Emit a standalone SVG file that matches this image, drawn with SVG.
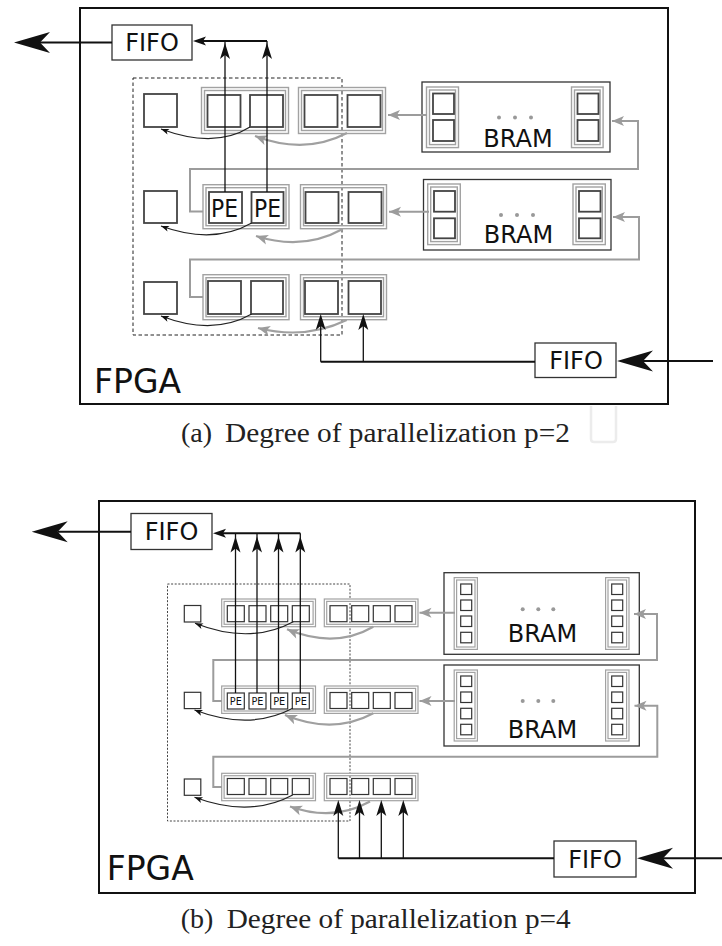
<svg xmlns="http://www.w3.org/2000/svg" xmlns:xlink="http://www.w3.org/1999/xlink" width="722" height="946" viewBox="0 0 722 946">
<style>
.bg{fill:#fff}
.fr{fill:none;stroke:#111;stroke-width:2}
.bx{fill:#fff;stroke:#333;stroke-width:1.3}
.gb{fill:none;stroke:#a2a2a2;stroke-width:4.4}
.gw{fill:none;stroke:#fff;stroke-width:1.6}
.gb2{fill:none;stroke:#a2a2a2;stroke-width:3.6}
.gw2{fill:none;stroke:#fff;stroke-width:1.2}
.sq{fill:#fff;stroke:#444;stroke-width:1.8}
.sq2{fill:#fff;stroke:#333;stroke-width:1.2}
.dash{fill:none;stroke:#222;stroke-width:1;stroke-dasharray:3.5 2.5}
.dot{fill:none;stroke:#444;stroke-width:1;stroke-dasharray:2 1.6}
.ln{fill:none;stroke:#111;stroke-width:1.3}
.lnb{fill:none;stroke:#111;stroke-width:2}
.gl{fill:none;stroke:#9c9c9c;stroke-width:2}
.ck{fill:none;stroke:#222;stroke-width:1.2}
.cg{fill:none;stroke:#a0a0a0;stroke-width:2.2}
.ah{fill:#111}
.dt{fill:#999}
.t{font-family:"DejaVu Sans","Liberation Sans",sans-serif;fill:#111}
.fifo{font-size:24px;text-anchor:middle}
.bram{font-size:24px;text-anchor:middle}
.fpga{font-size:33px}
.pe{font-size:25px}
.pe2{font-size:10px}
.cap{font-family:"Liberation Serif","DejaVu Serif",serif;font-size:28px;fill:#222}
</style>
<defs>
<path id="up" d="M0,0 L5,16 L0,12 L-5,16 Z"/>
<path id="lf" d="M0,0 L13,-4.5 L10,0 L13,4.5 Z"/>
<path id="big" d="M0,0 L36,-10.5 L26,0 L36,10.5 Z"/>
<marker id="mg" viewBox="-13 -6 14 12" refX="0" refY="0" markerWidth="14" markerHeight="12" markerUnits="userSpaceOnUse" orient="auto"><path d="M0,0 L-12,-5 L-9,0 L-12,5 Z" fill="#9c9c9c"/></marker>
<marker id="mk" viewBox="-9 -4 10 8" refX="0" refY="0" markerWidth="10" markerHeight="8" markerUnits="userSpaceOnUse" orient="auto"><path d="M0,0 L-8,-3 L-6,0 L-8,3 Z" fill="#111"/></marker>
</defs>
<rect class="bg" x="0" y="0" width="722" height="946"/>

<!-- ================= (a) ================= -->
<g id="a-fpga">
<rect class="fr" x="80" y="8" width="588" height="396"/>
<text class="t fpga" x="94" y="393">FPGA</text>
</g>
<g id="a-fifo-out">
<rect class="bx" x="112" y="25" width="80" height="35"/>
<text class="t fifo" x="152" y="51">FIFO</text>
</g>
<g id="a-fifo-in">
<rect class="bx" x="535" y="343" width="81" height="34.5"/>
<text class="t fifo" x="576" y="368.5">FIFO</text>
</g>
<g id="a-parallel-region">
<rect class="dash" x="133" y="78" width="209" height="257"/>
</g>
<g id="a-row1">
<rect class="sq" x="144" y="94" width="33" height="33"/>
<rect class="gb" x="203" y="89" width="84" height="43"/><rect class="gw" x="203" y="89" width="84" height="43"/>
<rect class="sq" x="207.5" y="95" width="33" height="32"/><rect class="sq" x="250" y="95" width="33" height="32"/>
<rect class="gb" x="300" y="89" width="84" height="43"/><rect class="gw" x="300" y="89" width="84" height="43"/>
<rect class="sq" x="304.5" y="95" width="33" height="32"/><rect class="sq" x="347.5" y="95" width="33" height="32"/>
</g>
<g id="a-row2">
<rect class="sq" x="144" y="191" width="33" height="32"/>
<rect class="gb" x="204.5" y="186.2" width="83" height="41"/><rect class="gw" x="204.5" y="186.2" width="83" height="41"/>
<rect class="sq" x="209" y="192" width="33" height="31"/><rect class="sq" x="251.5" y="192" width="32" height="31"/>
<text class="t pe" x="211" y="216.7" textLength="27" lengthAdjust="spacingAndGlyphs">PE</text>
<text class="t pe" x="254" y="216.7" textLength="27" lengthAdjust="spacingAndGlyphs">PE</text>
<rect class="gb" x="302" y="186.2" width="83" height="41"/><rect class="gw" x="302" y="186.2" width="83" height="41"/>
<rect class="sq" x="305.5" y="192" width="33" height="31"/><rect class="sq" x="348.5" y="192" width="33" height="31"/>
</g>
<g id="a-row3">
<rect class="sq" x="144" y="282" width="33" height="32"/>
<rect class="gb" x="204.5" y="276.2" width="83" height="42"/><rect class="gw" x="204.5" y="276.2" width="83" height="42"/>
<rect class="sq" x="208" y="281" width="33" height="33"/><rect class="sq" x="251" y="281" width="32" height="33"/>
<rect class="gb" x="302" y="276.2" width="83" height="42"/><rect class="gw" x="302" y="276.2" width="83" height="42"/>
<rect class="sq" x="305" y="281" width="33" height="33"/><rect class="sq" x="348.5" y="281" width="32.5" height="33"/>
</g>
<g id="a-bram1">
<rect class="bx" x="422" y="82" width="188" height="70"/>
<rect class="gb" x="428" y="88.5" width="29" height="57.6"/><rect class="gw" x="428" y="88.5" width="29" height="57.6"/>
<rect class="sq" x="433" y="93.5" width="21" height="20.5"/><rect class="sq" x="433" y="120" width="21" height="21"/>
<rect class="gb" x="573" y="88.5" width="28.6" height="57.6"/><rect class="gw" x="573" y="88.5" width="28.6" height="57.6"/>
<rect class="sq" x="577.5" y="93.5" width="21" height="20.5"/><rect class="sq" x="577.5" y="120" width="21" height="21"/>
<circle class="dt" cx="499" cy="117.5" r="2"/><circle class="dt" cx="515" cy="117.5" r="2"/><circle class="dt" cx="531" cy="117.5" r="2"/>
<text class="t bram" x="518" y="147">BRAM</text>
</g>
<g id="a-bram2">
<rect class="bx" x="423.5" y="179.5" width="187.5" height="70.5"/>
<rect class="gb" x="429.2" y="185.5" width="29.6" height="57.6"/><rect class="gw" x="429.2" y="185.5" width="29.6" height="57.6"/>
<rect class="sq" x="434" y="191" width="21" height="20.7"/><rect class="sq" x="434" y="218.3" width="21" height="20"/>
<rect class="gb" x="574.5" y="185.5" width="29.3" height="57.6"/><rect class="gw" x="574.5" y="185.5" width="29.3" height="57.6"/>
<rect class="sq" x="579" y="191" width="21.5" height="20.7"/><rect class="sq" x="579" y="218.3" width="21.5" height="20"/>
<circle class="dt" cx="501" cy="215" r="2"/><circle class="dt" cx="517" cy="215" r="2"/><circle class="dt" cx="533" cy="215" r="2"/>
<text class="t bram" x="518.5" y="243.3">BRAM</text>
</g>
<g id="a-connectors">
<path class="gl" d="M203,211.5 H190 V169 H638 V121 H612" marker-end="url(#mg)"/>
<path class="gl" d="M203,297 H190 V259.5 H639 V217 H613" marker-end="url(#mg)"/>
<path class="gl" d="M427,115 H388" marker-end="url(#mg)"/>
<path class="gl" d="M429,211.7 H389" marker-end="url(#mg)"/>
<path class="ck" d="M250,127 Q215,149 161,129" marker-end="url(#mk)"/>
<path class="cg" d="M347,133 Q305,155 255,136" marker-end="url(#mg)"/>
<path class="ck" d="M251.7,223 Q213,245 161,226" marker-end="url(#mk)"/>
<path class="cg" d="M342.7,229 Q303,251 256,236" marker-end="url(#mg)"/>
<path class="ck" d="M251.7,314 Q213,336 161,316" marker-end="url(#mk)"/>
<path class="cg" d="M346.7,320 Q305,340 258,328" marker-end="url(#mg)"/>
<path class="ln" d="M225,192 V41"/><path class="ln" d="M267,192 V41"/>
<path class="lnb" d="M267,41 H203"/>
<use href="#up" class="ah" x="225" y="43"/><use href="#up" class="ah" x="267" y="43"/>
<use href="#lf" class="ah" x="193" y="41"/>
<path class="lnb" d="M112,42.5 H40"/>
<use href="#big" class="ah" x="14" y="42.5"/>
<path class="lnb" d="M535,361.7 H320.7"/>
<path class="ln" d="M320.7,361.7 V326"/><path class="ln" d="M363.3,361.7 V326"/>
<use href="#up" class="ah" x="320.7" y="314"/><use href="#up" class="ah" x="363.3" y="314"/>
<path class="lnb" d="M713,361 H643"/>
<use href="#big" class="ah" x="617" y="361"/>
</g>
<path d="M591,406 V439 Q591,442 594,442 H613 Q616,442 616,439 V406" fill="none" stroke="#ececec" stroke-width="2.5"/>
<text class="cap"><tspan x="181" y="442">(a)</tspan><tspan x="225" y="442" textLength="345" lengthAdjust="spacingAndGlyphs">Degree of parallelization p=2</tspan></text>

<!-- ================= (b) ================= -->
<g id="b-fpga">
<rect class="fr" x="99" y="501" width="596" height="392"/>
<text class="t fpga" x="106.7" y="880">FPGA</text>
</g>
<g id="b-fifo-out">
<rect class="bx" x="131" y="513.5" width="81" height="36"/>
<text class="t fifo" x="171.5" y="540">FIFO</text>
</g>
<g id="b-fifo-in">
<rect class="bx" x="554" y="841" width="82" height="36"/>
<text class="t fifo" x="595" y="868">FIFO</text>
</g>
<g id="b-parallel-region">
<rect class="dot" x="167.5" y="584" width="182.5" height="237"/>
</g>
<g id="b-row1">
<rect class="sq2" x="184.3" y="605.5" width="16.5" height="16.5"/>
<rect class="gb2" x="222.9" y="600.2" width="91.4" height="25.3"/><rect class="gw2" x="222.9" y="600.2" width="91.4" height="25.3"/>
<rect class="sq2" x="227.3" y="605.7" width="17" height="16"/><rect class="sq2" x="249" y="605.7" width="17" height="16"/><rect class="sq2" x="270.7" y="605.7" width="17" height="16"/><rect class="sq2" x="292.3" y="605.7" width="17" height="16"/>
<rect class="gb2" x="325.5" y="600.2" width="91.3" height="25.3"/><rect class="gw2" x="325.5" y="600.2" width="91.3" height="25.3"/>
<rect class="sq2" x="330" y="605.7" width="17" height="16"/><rect class="sq2" x="351.7" y="605.7" width="17" height="16"/><rect class="sq2" x="373.3" y="605.7" width="17" height="16"/><rect class="sq2" x="395" y="605.7" width="17" height="16"/>
</g>
<g id="b-row2">
<rect class="sq2" x="184.3" y="692.3" width="16.5" height="16.3"/>
<rect class="gb2" x="222.9" y="687.2" width="91.4" height="25"/><rect class="gw2" x="222.9" y="687.2" width="91.4" height="25"/>
<rect class="sq2" x="227.3" y="693" width="17" height="16"/><rect class="sq2" x="249" y="693" width="17" height="16"/><rect class="sq2" x="270.7" y="693" width="17" height="16"/><rect class="sq2" x="292.3" y="693" width="17" height="16"/>
<text class="t pe2" x="229.8" y="705" textLength="12" lengthAdjust="spacingAndGlyphs">PE</text>
<text class="t pe2" x="251.5" y="705" textLength="12" lengthAdjust="spacingAndGlyphs">PE</text>
<text class="t pe2" x="273.2" y="705" textLength="12" lengthAdjust="spacingAndGlyphs">PE</text>
<text class="t pe2" x="294.8" y="705" textLength="12" lengthAdjust="spacingAndGlyphs">PE</text>
<rect class="gb2" x="325.5" y="687.2" width="91.3" height="25"/><rect class="gw2" x="325.5" y="687.2" width="91.3" height="25"/>
<rect class="sq2" x="330" y="692.5" width="17" height="16"/><rect class="sq2" x="351.7" y="692.5" width="17" height="16"/><rect class="sq2" x="373.3" y="692.5" width="17" height="16"/><rect class="sq2" x="395" y="692.5" width="17" height="16"/>
</g>
<g id="b-row3">
<rect class="sq2" x="184.3" y="779" width="16.5" height="16.3"/>
<rect class="gb2" x="222.9" y="774.5" width="91.4" height="25"/><rect class="gw2" x="222.9" y="774.5" width="91.4" height="25"/>
<rect class="sq2" x="227.3" y="778.5" width="17" height="16"/><rect class="sq2" x="249" y="778.5" width="17" height="16"/><rect class="sq2" x="270.7" y="778.5" width="17" height="16"/><rect class="sq2" x="292.3" y="778.5" width="17" height="16"/>
<rect class="gb2" x="325.5" y="774.5" width="91.3" height="25"/><rect class="gw2" x="325.5" y="774.5" width="91.3" height="25"/>
<rect class="sq2" x="330" y="778.5" width="17" height="16"/><rect class="sq2" x="351.7" y="778.5" width="17" height="16"/><rect class="sq2" x="373.3" y="778.5" width="17" height="16"/><rect class="sq2" x="395" y="778.5" width="17" height="16"/>
</g>
<g id="b-bram1">
<rect class="bx" x="444" y="572.7" width="195.3" height="81.6"/>
<rect class="gb2" x="455.4" y="578.8" width="20.8" height="69.4"/><rect class="gw2" x="455.4" y="578.8" width="20.8" height="69.4"/>
<rect class="sq2" x="460.7" y="584" width="11" height="10.5"/><rect class="sq2" x="460.7" y="600" width="11" height="10.5"/><rect class="sq2" x="460.7" y="616" width="11" height="10.5"/><rect class="sq2" x="460.7" y="632.3" width="11" height="10.5"/>
<rect class="gb2" x="606.8" y="578.8" width="21" height="69.4"/><rect class="gw2" x="606.8" y="578.8" width="21" height="69.4"/>
<rect class="sq2" x="611.7" y="584" width="11" height="10.5"/><rect class="sq2" x="611.7" y="600" width="11" height="10.5"/><rect class="sq2" x="611.7" y="616" width="11" height="10.5"/><rect class="sq2" x="611.7" y="632.3" width="11" height="10.5"/>
<circle class="dt" cx="522.7" cy="609.3" r="2"/><circle class="dt" cx="538.3" cy="609.3" r="2"/><circle class="dt" cx="553.3" cy="609.3" r="2"/>
<text class="t bram" x="542.5" y="641.7">BRAM</text>
</g>
<g id="b-bram2">
<rect class="bx" x="444" y="665" width="195.3" height="81"/>
<rect class="gb2" x="455.4" y="671.2" width="20.8" height="68.6"/><rect class="gw2" x="455.4" y="671.2" width="20.8" height="68.6"/>
<rect class="sq2" x="460.7" y="676" width="11" height="10.5"/><rect class="sq2" x="460.7" y="692" width="11" height="10.5"/><rect class="sq2" x="460.7" y="708.3" width="11" height="10.5"/><rect class="sq2" x="460.7" y="724.3" width="11" height="10.5"/>
<rect class="gb2" x="606.8" y="671.2" width="21" height="68.6"/><rect class="gw2" x="606.8" y="671.2" width="21" height="68.6"/>
<rect class="sq2" x="611.7" y="676" width="11" height="10.5"/><rect class="sq2" x="611.7" y="692" width="11" height="10.5"/><rect class="sq2" x="611.7" y="708.3" width="11" height="10.5"/><rect class="sq2" x="611.7" y="724.3" width="11" height="10.5"/>
<circle class="dt" cx="522.7" cy="701" r="2"/><circle class="dt" cx="538.3" cy="701" r="2"/><circle class="dt" cx="553.3" cy="701" r="2"/>
<text class="t bram" x="542.5" y="738.3">BRAM</text>
</g>
<g id="b-connectors">
<path class="gl" d="M222,701 H213.3 V660 H657 V614 H634" marker-end="url(#mg)"/>
<path class="gl" d="M222,787 H213.3 V756.7 H657.3 V705.7 H634.5" marker-end="url(#mg)"/>
<path class="gl" d="M455,612.7 H419.5" marker-end="url(#mg)"/>
<path class="gl" d="M455,701 H419.5" marker-end="url(#mg)"/>
<path class="ck" d="M293.3,621.7 Q250,645 195,623.3" marker-end="url(#mk)"/>
<path class="cg" d="M373.3,626.7 Q335,649 287,629.3" marker-end="url(#mg)"/>
<path class="ck" d="M292.7,708.3 Q250,731 194.5,710" marker-end="url(#mk)"/>
<path class="cg" d="M373.3,713.3 Q333,735 285,715" marker-end="url(#mg)"/>
<path class="ck" d="M292.7,795 Q250,818 194.5,797.3" marker-end="url(#mk)"/>
<path class="cg" d="M370,801.5 Q333,822 290,806.5" marker-end="url(#mg)"/>
<path class="ln" d="M235.5,693 V533.3"/><path class="ln" d="M257,693 V533.3"/><path class="ln" d="M278.5,693 V533.3"/><path class="ln" d="M300.3,693 V533.3"/>
<path class="lnb" d="M300.3,533.3 H223"/>
<use href="#up" class="ah" x="235.5" y="536.5"/><use href="#up" class="ah" x="257" y="536.5"/><use href="#up" class="ah" x="278.5" y="536.5"/><use href="#up" class="ah" x="300.3" y="536.5"/>
<use href="#lf" class="ah" x="213" y="533.3"/>
<path class="lnb" d="M131,531.7 H58"/>
<use href="#big" class="ah" x="31.7" y="531.7"/>
<path class="lnb" d="M554,858.3 H338.3"/>
<path class="ln" d="M338.3,858.3 V812"/><path class="ln" d="M359.5,858.3 V812"/><path class="ln" d="M381.3,858.3 V812"/><path class="ln" d="M403.3,858.3 V812"/>
<use href="#up" class="ah" x="338.3" y="800"/><use href="#up" class="ah" x="359.5" y="800"/><use href="#up" class="ah" x="381.3" y="800"/><use href="#up" class="ah" x="403.3" y="800"/>
<path class="lnb" d="M722,858.3 H663"/>
<use href="#big" class="ah" x="637" y="858.3"/>
</g>
<text class="cap"><tspan x="180.7" y="927.5">(b)</tspan><tspan x="226.7" y="927.5" textLength="344" lengthAdjust="spacingAndGlyphs">Degree of parallelization p=4</tspan></text>
</svg>
